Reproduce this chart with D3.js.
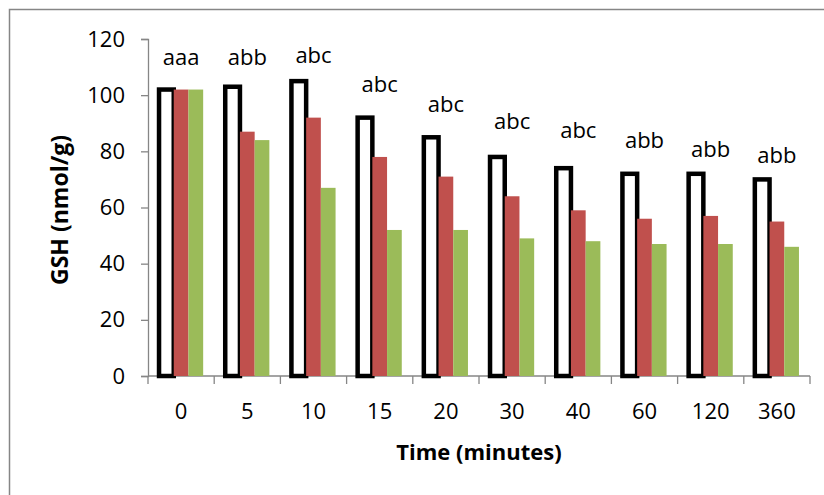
<!DOCTYPE html>
<html>
<head>
<meta charset="utf-8">
<script src="https://cdn.jsdelivr.net/npm/d3@7"></script>
<style>
  html, body { margin: 0; padding: 0; background: #fff; }
  svg { display: block; }
  text { font-family: "Open Sans", "Lato", sans-serif; fill: #000; }
</style>
</head>
<body>
<svg id="chart" width="824" height="495"></svg>
<script>
// ---- data ----
const categories = ["0", "5", "10", "15", "20", "30", "40", "60", "120", "360"];
const seriesControl = [102, 103, 105, 92, 85, 78, 74, 72, 72, 70];
const seriesRed = [102, 87, 92, 78, 71, 64, 59, 56, 57, 55];
const seriesGreen = [102, 84, 67, 52, 52, 49, 48, 47, 47, 46];
const letters = ["aaa", "abb", "abc", "abc", "abc", "abc", "abc", "abb", "abb", "abb"];
const letterLevels = [110.8, 110.8, 111.5, 101.2, 94.1, 87.9, 84.6, 81.3, 77.9, 75.7];
const yTicks = [0, 20, 40, 60, 80, 100, 120];
const yTitle = "GSH (nmol/g)";
const xTitle = "Time (minutes)";

// ---- layout ----
const svg = d3.select("#chart");
const axisColor = "#868686";
const x0 = d3.scaleBand().domain(categories).range([148, 810]).paddingInner(0).paddingOuter(0);
const x1 = d3.scaleBand().domain([0, 1, 2]).range([0, x0.bandwidth()]).paddingInner(0).paddingOuter(0.75);
const y = d3.scaleLinear().domain([0, 120]).range([376, 39]);

// frame
svg.append("path")
  .attr("d", "M9.5,495 L9.5,9.5 L824,9.5")
  .attr("fill", "none").attr("stroke", axisColor).attr("stroke-width", 1.5);

// y axis
const yAxis = svg.append("g").attr("transform", "translate(148,0)")
  .call(d3.axisLeft(y).tickValues(yTicks).tickSize(7).tickPadding(16));
yAxis.select(".domain").attr("stroke", axisColor).attr("stroke-width", 1.3);
yAxis.selectAll(".tick line").attr("stroke", axisColor).attr("stroke-width", 1.3);
yAxis.selectAll(".tick text").attr("font-size", 22).attr("font-family", "Open Sans").attr("fill", "#000");

// x axis (ticks at category boundaries)
const xAxisG = svg.append("g").attr("transform", "translate(0,376)");
xAxisG.append("line").attr("x1", 148).attr("x2", 810).attr("y1", 0).attr("y2", 0)
  .attr("stroke", axisColor).attr("stroke-width", 1.3);
const bounds = categories.map(c => x0(c)).concat([x0(categories[categories.length - 1]) + x0.bandwidth()]);
xAxisG.selectAll("line.tk").data(bounds).join("line").attr("class", "tk")
  .attr("x1", d => d).attr("x2", d => d).attr("y1", 0).attr("y2", 8)
  .attr("stroke", axisColor).attr("stroke-width", 1.3);
xAxisG.selectAll("text.lbl").data(categories).join("text").attr("class", "lbl")
  .attr("x", d => x0(d) + x0.bandwidth() / 2).attr("y", 43)
  .attr("text-anchor", "middle").attr("font-size", 22).text(d => d);

// bars
const groups = svg.append("g").selectAll("g").data(categories).join("g")
  .attr("transform", d => `translate(${x0(d)},0)`);
groups.append("rect")
  .attr("x", 0 + x1(0)).attr("width", x1.bandwidth())
  .attr("y", (d, i) => y(seriesControl[i])).attr("height", (d, i) => y(0) - y(seriesControl[i]))
  .attr("fill", "#fff").attr("stroke", "#000").attr("stroke-width", 4.5);
groups.append("rect")
  .attr("x", x1(1)).attr("width", x1.bandwidth())
  .attr("y", (d, i) => y(seriesRed[i])).attr("height", (d, i) => y(0) - y(seriesRed[i]))
  .attr("fill", "#C0504D");
groups.append("rect")
  .attr("x", x1(2)).attr("width", x1.bandwidth())
  .attr("y", (d, i) => y(seriesGreen[i])).attr("height", (d, i) => y(0) - y(seriesGreen[i]))
  .attr("fill", "#9BBB59");

// significance letters
svg.append("g").selectAll("text").data(categories).join("text")
  .attr("x", d => x0(d) + x0.bandwidth() / 2)
  .attr("y", (d, i) => y(letterLevels[i]))
  .attr("text-anchor", "middle").attr("font-size", 22)
  .text((d, i) => letters[i]);

// axis titles
svg.append("text")
  .attr("transform", "translate(68,210) rotate(-90)")
  .attr("text-anchor", "middle").attr("font-size", 23).attr("font-weight", "bold")
  .text(yTitle);
svg.append("text")
  .attr("x", 479).attr("y", 460)
  .attr("text-anchor", "middle").attr("font-size", 22).attr("font-weight", "bold")
  .text(xTitle);
</script>
</body>
</html>
